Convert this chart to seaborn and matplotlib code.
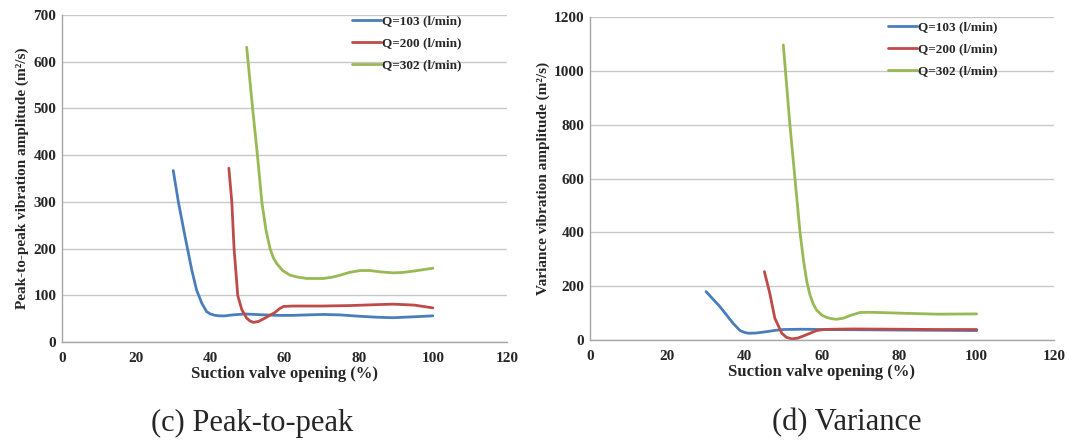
import numpy as np
import pandas as pd
import matplotlib
matplotlib.use("Agg")
import matplotlib.pyplot as plt
import seaborn as sns

# ---------------- data ----------------
series_names = ["Q=103 (l/min)", "Q=200 (l/min)", "Q=302 (l/min)"]
series_colors = ["#4A7EBB", "#BE4B48", "#98B954"]

# (c) Peak-to-peak
p2p_x_103 = [30, 31.4, 33.2, 35, 36.3, 37.7, 39, 40, 41.3, 42.5, 44, 46, 49.4, 52, 54.7, 58, 62, 66, 70.5, 75, 80.4, 85, 89.3, 95, 100]
p2p_y_103 = [367, 299, 225, 154, 111, 83, 65, 60, 57, 56, 56, 58, 60, 59, 58, 57, 57, 58, 59, 58, 55, 53, 52, 54, 56]
p2p_x_200 = [45, 45.8, 46.4, 47.4, 48.5, 49.8, 50.7, 51.6, 53, 54.7, 56, 57.4, 58.6, 59.7, 62, 64.2, 70, 77.7, 85, 89.3, 95, 100]
p2p_y_200 = [372, 299, 200, 99, 69, 51, 45, 42, 44, 51, 57, 63, 71, 76, 77, 77, 77, 78, 80, 81, 79, 73]
p2p_x_302 = [49.8, 51.4, 52.7, 53.9, 55, 56.1, 57, 57.9, 59.5, 61.5, 63.5, 66, 70.5, 73, 75, 77.5, 80.4, 83, 86, 89.3, 92, 95, 100]
p2p_y_302 = [631, 500, 400, 299, 240, 200, 180, 168, 153, 143, 139, 136, 136, 139, 143, 149, 153, 153, 150, 148, 149, 152, 158]

# (d) Variance
var_x_103 = [30, 33.6, 37, 38.8, 40, 41, 43, 45.7, 48, 50, 55, 60, 70, 80, 90, 100]
var_y_103 = [180, 124, 62, 35, 28, 25, 26, 31, 36, 39, 40, 39, 38, 37, 36, 35]
var_x_200 = [45.1, 46.5, 47.8, 49.6, 50.8, 52.2, 53.7, 55.2, 56.9, 58.6, 60.5, 62.9, 68, 80, 90, 100]
var_y_200 = [254, 173, 81, 25, 10, 4, 7, 15, 25, 35, 39, 40, 41, 40, 39, 39]
var_x_302 = [50, 51.7, 53, 54.3, 55.2, 56.1, 56.9, 57.7, 58.6, 60, 61.2, 62.5, 63.8, 65.5, 67.5, 69.8, 72, 75, 81.9, 90, 100]
var_y_302 = [1096, 799, 601, 402, 297, 215, 167, 135, 111, 92, 84, 79, 77, 81, 92, 102, 103, 102, 99, 96, 97]

x_ticks = [0, 20, 40, 60, 80, 100, 120]
p2p_yticks = [0, 100, 200, 300, 400, 500, 600, 700]
var_yticks = [0, 200, 400, 600, 800, 1000, 1200]

x_label = "Suction valve opening (%)"
p2p_ylabel = "Peak-to-peak vibration amplitude (m\u00b2/s)"
var_ylabel = "Variance vibration amplitude (m\u00b2/s)"
caption_c = "(c) Peak-to-peak"
caption_d = "(d) Variance"


def make_df(xs, ys):
    frames = []
    for name, x, y in zip(series_names, xs, ys):
        frames.append(pd.DataFrame({"x": x, "y": y, "series": name}))
    return pd.concat(frames, ignore_index=True)


df_p2p = make_df([p2p_x_103, p2p_x_200, p2p_x_302], [p2p_y_103, p2p_y_200, p2p_y_302])
df_var = make_df([var_x_103, var_x_200, var_x_302], [var_y_103, var_y_200, var_y_302])

# ---------------- style ----------------
sns.set_style("white")
plt.rcParams["font.family"] = ["Liberation Serif", "DejaVu Serif"]

fig = plt.figure(figsize=(10.69, 4.41), dpi=100)
ax1 = fig.add_axes([62 / 1069, 1 - 342 / 441, 445 / 1069, 327 / 441])
ax2 = fig.add_axes([590 / 1069, 1 - 340 / 441, 464 / 1069, 323 / 441])

palette = dict(zip(series_names, series_colors))


def style_axes(ax, df, yticks, ylabel, legend_anchor):
    sns.lineplot(data=df, x="x", y="y", hue="series", palette=palette,
                 sort=False, estimator=None, linewidth=2.0, ax=ax, legend=False)
    ax.set_xlim(0, 120)
    ax.set_ylim(yticks[0], yticks[-1])
    ax.set_xticks(x_ticks)
    ax.set_yticks(yticks)
    ax.set_xticklabels([str(t) for t in x_ticks], fontsize=11, fontweight="bold")
    ax.set_yticklabels([str(t) for t in yticks], fontsize=11, fontweight="bold")
    ax.yaxis.grid(True, color="#C8C8C8", linewidth=1.0)
    ax.xaxis.grid(False)
    ax.set_axisbelow(True)
    for s in ["top", "right"]:
        ax.spines[s].set_visible(False)
    for s in ["left", "bottom"]:
        ax.spines[s].set_color("#A6A6A6")
        ax.spines[s].set_linewidth(1.0)
    ax.tick_params(axis="x", direction="out", length=4, width=1, color="#A6A6A6", pad=3)
    ax.tick_params(axis="y", length=0, pad=4)
    ax.set_xlabel(x_label, fontsize=12, fontweight="bold", labelpad=1)
    ax.set_ylabel(ylabel, fontsize=11, fontweight="bold", labelpad=3)
    handles = [plt.Line2D([], [], color=c, linewidth=2.0) for c in series_colors]
    ax.legend(handles, series_names, loc="upper right", bbox_to_anchor=legend_anchor,
              frameon=False, prop={"weight": "bold", "size": 9.5},
              handlelength=2.2, handletextpad=0.1, labelspacing=0.75, borderaxespad=0)


style_axes(ax1, df_p2p, p2p_yticks, p2p_ylabel, (0.91, 1.016))
style_axes(ax2, df_var, var_yticks, var_ylabel, (0.89, 1.004))

fig.text(252 / 1069, 1 - 423 / 441, caption_c, ha="center", va="center", fontsize=22)
fig.text(847 / 1069, 1 - 423 / 441, caption_d, ha="center", va="center", fontsize=22)

fig.savefig("out.png", dpi=100, facecolor="white")
